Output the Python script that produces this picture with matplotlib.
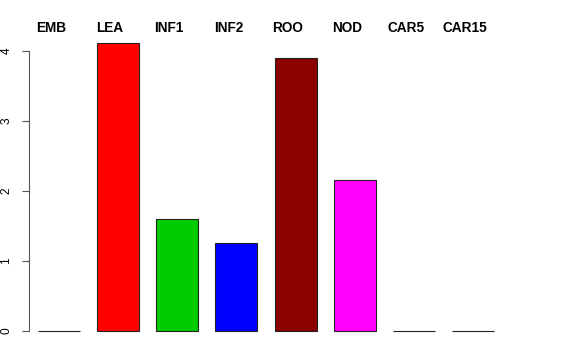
import matplotlib
matplotlib.use("Agg")
import matplotlib.pyplot as plt

categories = ["EMB", "LEA", "INF1", "INF2", "ROO", "NOD", "CAR5", "CAR15"]
values = [0.0, 4.11, 1.60, 1.26, 3.90, 2.16, 0.0, 0.0]
colors = ["#000000", "#FF0000", "#00CD00", "#0000FF", "#8B0000", "#FF00FF", "#000000", "#000000"]
yticks = [0, 1, 2, 3, 4]

plt.rcParams['font.family'] = ['Liberation Sans', 'DejaVu Sans']
fig = plt.figure(figsize=(5.76, 3.6), dpi=100)
W, H = 576, 360
left_px, right_px, top_px, bot_px = 29, 540, 51, 331
ax = fig.add_axes([left_px / W, (H - bot_px) / H, (right_px - left_px) / W, (bot_px - top_px) / H])

step = 59.14
c0 = 59
ax.set_xlim((left_px - c0) / step, (right_px - c0) / step)
ax.set_ylim(0, 4)

x = list(range(len(categories)))
ax.bar(x, values, width=0.71, color=colors, edgecolor="#222222", linewidth=0.8, clip_on=False)

for xi, lab in zip(x, categories):
    ax.text(xi - 8 / step, 4 + (51 - 28.5) / 70, lab, ha="center", va="center", fontsize=9.8,
            fontweight="bold", clip_on=False)

for s in ["top", "right", "bottom"]:
    ax.spines[s].set_visible(False)
ax.spines["left"].set_color("#555555")
ax.spines["left"].set_linewidth(0.8)
ax.set_xticks([])
ax.set_yticks(yticks)
ax.set_yticklabels([str(t) for t in yticks], rotation=90, va="center", fontsize=8.6)
ax.tick_params(axis="y", length=5, width=0.8, color="#555555", pad=7)

fig.savefig("out.png", dpi=100)
